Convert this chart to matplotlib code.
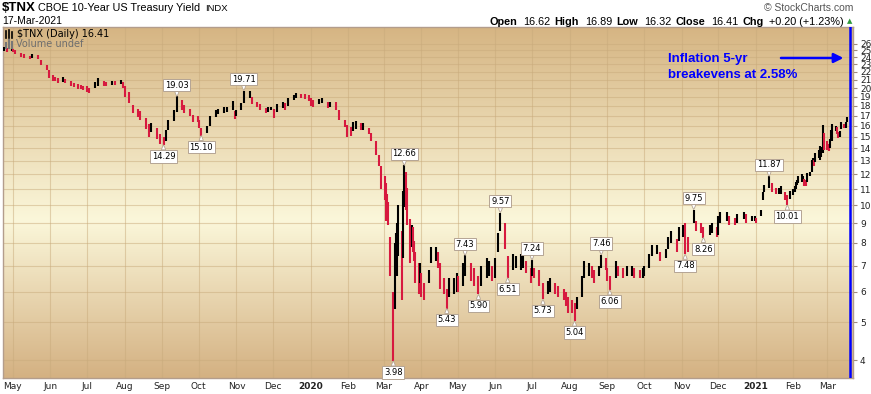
import numpy as np
import pandas as pd
import matplotlib.pyplot as plt
import matplotlib.dates as mdates
from matplotlib.lines import Line2D
from matplotlib.colors import LinearSegmentedColormap
from matplotlib.ticker import FixedLocator, FixedFormatter, NullLocator, NullFormatter

# $TNX daily bars (yield x10), grouped by month
first_day = '2019-04-24'
last_day = '2021-03-17'
months = ['2019-04', '2019-05', '2019-06', '2019-07', '2019-08', '2019-09', '2019-10',
          '2019-11', '2019-12', '2020-01', '2020-02', '2020-03', '2020-04', '2020-05',
          '2020-06', '2020-07', '2020-08', '2020-09', '2020-10', '2020-11', '2020-12',
          '2021-01', '2021-02', '2021-03']
bars_per_month = [3, 10, 10, 10, 10, 10, 10, 10, 10, 10, 10, 22,
                  12, 10, 11, 11, 11, 10, 10, 10, 10, 12, 20, 13]

bar_lo = [
    24.9, 24.8, 24.9,
    24.7, 24.4, 24.0, 23.9, 23.7, 23.9, 23.8, 22.9, 22.2, 21.2,
    20.8, 20.8, 20.6, 20.7, 20.6, 20.3, 20.1, 19.9, 19.9, 19.8,
    19.5, 19.4, 20.0, 20.3, 20.3, 20.2, 20.4, 20.4, 20.5, 20.0,
    19.0, 18.3, 17.3, 16.9, 16.6, 15.7, 15.0, 15.4, 14.8, 14.4,
    14.29, 14.6, 15.6, 16.5, 17.4, 17.6, 17.3, 17.0, 16.4, 16.4,
    15.8, 15.10, 15.3, 16.0, 16.9, 17.2, 17.3, 17.4, 17.6, 16.7,
    17.0, 17.6, 18.3, 18.9, 18.2, 17.9, 17.6, 17.3, 17.4, 17.6,
    16.8, 17.4, 17.8, 17.6, 18.0, 18.6, 18.9, 18.9, 18.8, 18.5,
    18.0, 17.9, 18.2, 18.3, 17.8, 17.9, 17.6, 16.6, 15.9, 15.0,
    15.1, 15.5, 15.7, 15.6, 15.6, 15.2, 14.6, 13.5, 12.6, 11.0,
    10.3, 9.1, 9.4, 8.9, 6.6, 3.98, 5.4, 6.9, 6.6, 7.4, 5.7, 7.3, 9.9, 9.7, 8.9, 7.1,
    7.8, 7.6, 7.2, 6.3, 5.9, 6.3,
    5.8, 5.7, 6.3, 7.1, 7.2, 6.9, 6.1, 5.9, 5.43, 5.8, 5.9, 6.0,
    6.0, 6.2, 6.6, 6.4, 6.2, 5.9, 6.2, 6.5, 6.6, 6.4,
    6.5, 7.6, 8.6, 7.7, 6.51, 6.8, 6.9, 6.8, 6.9, 6.7, 6.3,
    6.6, 6.5, 6.2, 5.73, 5.9, 6.0, 5.9, 5.8, 5.7, 5.5, 5.3,
    5.3, 5.04, 5.4, 5.8, 6.5, 6.6, 6.5, 6.3, 6.6, 6.9, 6.8,
    6.4, 6.06, 6.5, 6.6, 6.5, 6.6, 6.6, 6.5, 6.5, 6.5,
    6.6, 6.9, 7.4, 7.5, 7.2, 7.3, 7.7, 8.0, 7.6, 8.1,
    8.3, 7.48, 7.6, 9.0, 8.6, 8.5, 8.26, 8.4, 8.5, 8.3,
    8.4, 9.0, 9.1, 8.9, 8.9, 9.0, 9.2, 9.0, 9.1, 9.1,
    9.0, 9.4, 10.3, 10.8, 11.1, 10.8, 10.7, 10.7, 10.7, 10.3, 10.01, 10.4,
    10.6, 10.8, 11.0, 11.3, 11.4, 11.5, 11.6, 11.2, 11.2, 11.5,
    11.9, 12.2, 12.6, 12.6, 12.9, 13.2, 13.1, 13.3, 13.6, 13.9,
    13.9, 13.8, 14.0, 14.6, 14.6, 15.5, 15.2, 14.9, 15.0, 15.7, 15.8, 15.8, 16.32,
]
bar_hi = [
    25.5, 25.3, 25.3,
    25.2, 25.0, 24.6, 24.4, 24.2, 24.4, 24.3, 23.6, 22.9, 22.2,
    21.6, 21.4, 21.2, 21.3, 21.1, 20.9, 20.6, 20.5, 20.4, 20.3,
    20.2, 20.0, 20.7, 21.2, 20.9, 20.7, 20.9, 20.8, 21.0, 20.7,
    20.3, 19.5, 18.1, 17.7, 17.5, 16.8, 16.2, 16.3, 15.8, 15.2,
    15.0, 15.6, 16.6, 17.6, 19.03, 18.6, 18.1, 17.7, 17.1, 17.0,
    16.6, 15.8, 16.0, 17.0, 17.6, 17.7, 17.9, 17.9, 18.5, 17.5,
    17.6, 18.3, 19.71, 19.6, 19.0, 18.4, 18.2, 17.8, 17.9, 17.9,
    17.7, 18.2, 18.4, 18.3, 18.9, 19.2, 19.4, 19.3, 19.3, 19.2,
    18.9, 18.6, 18.8, 18.9, 18.4, 18.4, 18.4, 17.6, 16.6, 16.1,
    15.9, 16.4, 16.5, 16.3, 16.3, 15.8, 15.3, 14.6, 13.5, 12.6,
    11.9, 11.4, 10.7, 10.2, 8.3, 6.0, 8.0, 8.5, 9.0, 10.0, 8.6, 10.9, 12.66, 12.2, 11.1, 9.2,
    8.9, 8.8, 8.1, 7.6, 7.1, 7.1,
    6.7, 6.3, 6.8, 7.8, 7.8, 7.6, 7.1, 6.5, 6.1, 6.5, 6.5, 6.7,
    6.6, 7.1, 7.43, 7.1, 6.9, 6.6, 7.0, 7.3, 7.2, 7.0,
    7.3, 8.5, 9.57, 9.0, 7.4, 7.5, 7.4, 7.5, 7.4, 7.2, 6.9,
    7.24, 6.9, 6.8, 6.3, 6.4, 6.5, 6.3, 6.2, 6.1, 6.0, 5.8,
    5.7, 5.6, 5.8, 6.6, 7.2, 7.1, 7.0, 6.8, 7.0, 7.46, 7.3,
    6.9, 6.6, 7.2, 7.0, 6.9, 7.0, 7.0, 6.9, 6.8, 6.9,
    7.0, 7.5, 7.9, 7.9, 7.6, 7.7, 8.3, 8.6, 8.2, 8.8,
    8.9, 9.0, 8.3, 9.75, 9.1, 9.0, 8.8, 8.9, 9.0, 8.8,
    9.4, 9.6, 9.6, 9.4, 9.3, 9.5, 9.6, 9.5, 9.4, 9.4,
    9.3, 9.7, 10.8, 11.3, 11.87, 11.4, 11.1, 11.1, 11.2, 10.8, 10.6, 10.9,
    11.0, 11.2, 11.5, 11.6, 11.9, 12.0, 11.9, 11.7, 11.6, 12.1,
    12.2, 13.1, 13.2, 13.1, 13.6, 13.9, 14.2, 14.1, 16.1, 15.3,
    14.6, 14.4, 14.8, 15.6, 16.2, 16.0, 15.9, 15.4, 15.5, 16.4, 16.2, 16.4, 16.89,
]

# labelled swing highs (+1) and lows (-1)
ann_dates = ['2019-09-13', '2019-09-03', '2019-10-03', '2019-11-07', '2020-03-18', '2020-03-09',
             '2020-04-21', '2020-05-07', '2020-05-14', '2020-06-05', '2020-06-11', '2020-07-01',
             '2020-07-09', '2020-08-04', '2020-08-27', '2020-09-03', '2020-11-04', '2020-11-11',
             '2020-11-19', '2021-01-12', '2021-01-27']
ann_values = [19.03, 14.29, 15.10, 19.71, 12.66, 3.98, 5.43, 7.43, 5.90, 9.57, 6.51, 7.24,
              5.73, 5.04, 7.46, 6.06, 7.48, 9.75, 8.26, 11.87, 10.01]
ann_side = [1, -1, -1, 1, 1, -1, -1, 1, -1, 1, -1, 1, -1, -1, 1, -1, -1, 1, -1, 1, -1]

y_ticks = list(range(4, 27))

# bar dates: spread each month's bars over its business days
start, end = pd.Timestamp(first_day), pd.Timestamp(last_day)
dates = []
for m, n in zip(months, bars_per_month):
    p = pd.Period(m)
    days = pd.bdate_range(max(p.start_time, start), min(p.end_time.normalize(), end))
    idx = np.round(np.linspace(0, len(days) - 1, n)).astype(int)
    dates.extend(days[idx])
lo = np.array(bar_lo)
hi = np.array(bar_hi)
xd = mdates.date2num(pd.DatetimeIndex(dates).to_pydatetime())
mid = (lo + hi) / 2
up = np.r_[True, np.diff(mid) >= 0]
cols = np.where(up, 'black', '#d7193f')

fig = plt.figure(figsize=(8.71, 3.94), dpi=100)
ax = fig.add_axes([3 / 871, 16 / 394, 850 / 871, 351 / 394])

# beige StockCharts background
cmap = LinearSegmentedColormap.from_list('bg', [(0, '#d4b182'), (0.45, '#fbf7da'), (1, '#d6b583')])
ax.imshow(np.linspace(0, 1, 256).reshape(-1, 1), extent=[0, 1, 0, 1], origin='lower',
          transform=ax.transAxes, aspect='auto', cmap=cmap, zorder=0)

ax.vlines(xd, lo, hi, colors=cols, lw=1.5, zorder=3)

ax.set_yscale('log')
ax.set_ylim(3.6, 28.7)
ax.set_xlim(mdates.date2num(pd.Timestamp('2019-04-23')), mdates.date2num(pd.Timestamp('2021-03-22')))

ax.yaxis.tick_right()
ax.yaxis.set_major_locator(FixedLocator(y_ticks))
ax.yaxis.set_major_formatter(FixedFormatter([str(t) for t in y_ticks]))
ax.yaxis.set_minor_locator(NullLocator())
ax.yaxis.set_minor_formatter(NullFormatter())

mstarts = pd.date_range('2019-05-01', '2021-03-01', freq='MS')
ax.xaxis.set_major_locator(FixedLocator(mdates.date2num(mstarts.to_pydatetime())))
ax.xaxis.set_major_formatter(FixedFormatter([str(d.year) if d.month == 1 else d.strftime('%b') for d in mstarts]))
for lab, d in zip(ax.get_xticklabels(), mstarts):
    if d.month == 1:
        lab.set_fontweight('bold')

ax.tick_params(axis='x', length=0, pad=3, labelsize=6.5, labelcolor='#222222')
ax.tick_params(axis='y', which='major', length=3, pad=2, width=0.8, color='#a08c7c',
               labelsize=6.5, labelcolor='#222222')
ax.grid(True, color='#c9ab7c', alpha=0.5, lw=0.8)
ax.set_axisbelow(True)
for s in ax.spines.values():
    s.set_color('#b39d8c')
    s.set_linewidth(1)

# swing labels
for d, v, s in zip(ann_dates, ann_values, ann_side):
    target = hi if s > 0 else lo
    cand = np.where(np.isclose(target, v))[0]
    i = cand[np.argmin(np.abs(xd[cand] - mdates.date2num(pd.Timestamp(d))))]
    ax.annotate(f'{v:.2f}', xy=(xd[i], v), xytext=(0, 5 * s), textcoords='offset points',
                ha='center', va='bottom' if s > 0 else 'top', fontsize=6, family='DejaVu Sans',
                bbox=dict(boxstyle='square,pad=0.2', fc='white', ec='#b4a494', lw=0.7),
                arrowprops=dict(arrowstyle='wedge,tail_width=0.5,shrink_factor=0.6', fc='white',
                                ec='#b4a494', lw=0.6, shrinkA=0, shrinkB=0), zorder=5)

# breakeven note
ax.plot([0.9965, 0.9965], [0, 1], transform=ax.transAxes, color='#0000ff', lw=1.8, zorder=6)
ax.annotate('', xy=(0.992, 0.9117), xytext=(0.912, 0.9117), xycoords='axes fraction',
            arrowprops=dict(arrowstyle='-|>', color='#0000ff', lw=1.8, mutation_scale=14), zorder=6)
ax.text(0.782, 0.9003, 'Inflation 5-yr', transform=ax.transAxes, color='#0000ff',
        fontsize=9.5, fontweight='bold', family='Liberation Sans', va='baseline')
ax.text(0.782, 0.8547, 'breakevens at 2.58%', transform=ax.transAxes, color='#0000ff',
        fontsize=9.5, fontweight='bold', family='Liberation Sans', va='baseline')


# header
def ftext(px, py, s, **kw):
    kw.setdefault('family', 'Liberation Sans')
    kw.setdefault('va', 'center')
    return fig.text(px / 871, 1 - py / 394, s, **kw)


ftext(2, 8, '$TNX', fontsize=9.5, fontweight='bold')
ftext(38, 8, 'CBOE 10-Year US Treasury Yield', fontsize=7.8)
ftext(205, 8.5, 'INDX', fontsize=6.8)
ftext(2, 21, '17-Mar-2021', fontsize=7.5)
ftext(853, 8, '\u00a9 StockCharts.com', fontsize=7.5, color='#555555', ha='right')

# quote line, laid out from the right edge
quote = [('Open', True), ('16.62', False), ('High', True), ('16.89', False), ('Low', True),
         ('16.32', False), ('Close', True), ('16.41', False), ('Chg', True), ('+0.20 (+1.23%)', False)]
r = fig.canvas.get_renderer()
px = 844
for s, bold in reversed(quote):
    t = ftext(px, 22, s, fontsize=7.8, fontweight='bold' if bold else 'normal', ha='right')
    px -= t.get_window_extent(r).width + (4 if bold else 6)
ftext(847, 21, '\u25b2', fontsize=5, color='#2f9a3c', family='DejaVu Sans')

ftext(17, 34, '$TNX (Daily) 16.41', fontsize=7, family='DejaVu Sans')
ftext(16, 44, 'Volume undef', fontsize=7, family='DejaVu Sans', color='#6e6e6e')

# tiny legend icons
def fline(x0, y0, x1, y1, c, w):
    fig.add_artist(Line2D([x0 / 871, x1 / 871], [1 - y0 / 394, 1 - y1 / 394],
                          transform=fig.transFigure, color=c, lw=w))


for bx, top in [(6, 31), (9, 30), (12, 32)]:
    fline(bx, top, bx, 38, 'black', 1.2)
for bx, top in [(6, 43), (9, 40), (12, 42)]:
    fline(bx, top, bx, 48, '#777777', 1.5)

fig.savefig('out.png', dpi=100)
